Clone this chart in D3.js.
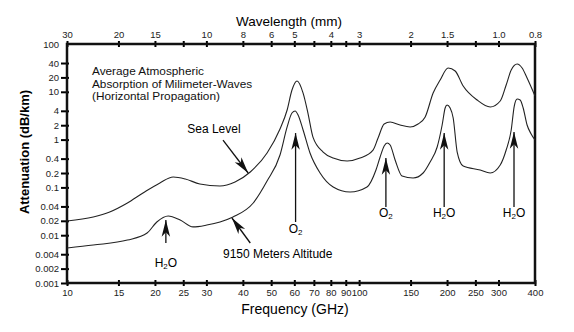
<!DOCTYPE html>
<html>
<head>
<meta charset="utf-8">
<script src="https://cdn.jsdelivr.net/npm/d3@7/dist/d3.min.js"></script>
<style>
  body { margin: 0; background: #fff; }
  svg { font-family: "Liberation Sans", Arial, sans-serif; }
</style>
</head>
<body>
<div id="chart"></div>
<script>
// frequency ticks (GHz) on the bottom, wavelength labels on the top at the same ticks
const freqTicks = [10, 15, 20, 25, 30, 40, 50, 60, 70, 80, 90, 100, 150, 200, 250, 300, 400]
const waveLabels = ["30", "20", "15", "", "10", "8", "6", "5", "", "4", "", "3", "2", "1.5", "", "1.0", "0.8"]
const attTicks = [100, 40, 20, 10, 4, 2, 1, 0.4, 0.2, 0.1, 0.04, 0.02, 0.01, 0.004, 0.002, 0.001]
const attLabels = ["100", "40", "20", "10", "4", "2", "1", "0.4", "0.2", "0.1", "0.04", "0.02", "0.01", "0.004", "0.002", "0.001"]

// sea level curve
const seaFreq = [10, 12.3, 14.0, 16.1, 18.2, 20.8, 23.1, 25.4, 28.5, 33.4, 37.6, 42.4, 48.4, 53.6, 56.7, 58.9, 61.3, 64.3, 66.8, 69.5, 75.3, 81.5, 91.0, 100.7, 111.6, 116.1, 121.8, 127.7, 138.1, 149.5, 159.2, 168.3, 179.2, 189.4, 201.7, 213.2, 227.1, 253.5, 281.0, 304.1, 318.7, 331.6, 347.5, 361.4, 375.8, 400]
const seaAtt = [0.0198, 0.024, 0.0306, 0.0472, 0.0764, 0.124, 0.165, 0.150, 0.118, 0.107, 0.130, 0.210, 0.525, 1.67, 4.16, 10.9, 16.8, 9.4, 3.6, 1.13, 0.55, 0.41, 0.356, 0.41, 0.605, 1.08, 2.12, 2.33, 2.02, 1.84, 2.12, 2.97, 9.4, 17.7, 31.5, 27.2, 13.2, 6.73, 4.81, 6.42, 13.9, 28.6, 38.2, 31.5, 19.4, 8.17]

// 9150 m altitude curve
const altFreq = [10, 12.3, 16.1, 18.8, 20.3, 22.2, 24.4, 27.0, 30.1, 33.4, 37.0, 43.4, 48.4, 53.6, 56.7, 58.9, 60.4, 61.8, 64.3, 67.9, 73.5, 81.5, 93.1, 106.4, 114.2, 118.0, 121.8, 124.7, 127.7, 132.8, 140.3, 153.0, 165.6, 175.0, 185.0, 192.4, 197.0, 200.0, 204.9, 209.9, 216.6, 227.1, 259.6, 281.0, 304.1, 318.7, 331.6, 339.7, 347.5, 355.8, 364.4, 375.8, 388.0, 400]
const altAtt = [0.0054, 0.00624, 0.0079, 0.0111, 0.0189, 0.0252, 0.0208, 0.0149, 0.0163, 0.0189, 0.024, 0.0472, 0.136, 0.476, 1.84, 3.6, 3.96, 3.27, 1.59, 0.525, 0.2, 0.102, 0.080, 0.102, 0.231, 0.432, 0.734, 0.85, 0.77, 0.374, 0.173, 0.157, 0.2, 0.34, 0.70, 2.02, 4.58, 5.3, 4.58, 2.83, 0.55, 0.28, 0.231, 0.2, 0.294, 0.605, 1.59, 5.04, 7.06, 6.73, 4.58, 2.02, 1.31, 0.98]

// absorption line arrows
const lineGas = ["H2O", "O2", "O2", "H2O", "H2O"]
const lineFreq = [21.8, 60.6, 123.5, 195.5, 339]
const lineBase = [0.0069, 0.0189, 0.039, 0.039, 0.039]
const lineTip = [0.0208, 1.37, 0.41, 1.37, 1.44]
const lineLabelAt = [0.00216, 0.0111, 0.024, 0.024, 0.024]

drawChart()

function drawChart() {
	const width = 574
	const height = 332
	const left = 67, right = 535, top = 44, bottom = 283

	const svg = d3.select("#chart")
		.append("svg")
		.attr("width", width)
		.attr("height", height)

	const x = d3.scaleLog().domain([10, 400]).range([left, right])
	const y = d3.scaleLog().domain([0.001, 100]).range([bottom, top])

	// arrow head
	svg.append("defs").append("marker")
		.attr("id", "head")
		.attr("markerUnits", "userSpaceOnUse")
		.attr("markerWidth", 20)
		.attr("markerHeight", 20)
		.attr("viewBox", "-16 -8 18 16")
		.attr("refX", 0)
		.attr("refY", 0)
		.attr("orient", "auto")
		.append("path")
		.attr("d", "M0,0 L-15,-3.8 L-11,0 L-15,3.8 Z")
		.attr("fill", "#111")

	// bottom axis
	const bx = svg.append("g")
		.attr("transform", `translate(0,${bottom})`)
		.call(d3.axisBottom(x).tickValues(freqTicks).tickFormat(d3.format("d")).tickSize(3).tickPadding(3.5))
	bx.select(".domain").remove()
	bx.selectAll(".tick line").attr("y1", -3).attr("stroke-width", 2)

	// top axis (wavelength)
	const tx = svg.append("g")
		.attr("transform", `translate(0,${top})`)
		.call(d3.axisTop(x).tickValues(freqTicks).tickFormat((d, i) => waveLabels[i]).tickSize(3).tickPadding(3.5))
	tx.select(".domain").remove()
	tx.selectAll(".tick line").attr("y1", 3).attr("stroke-width", 2)

	// left axis
	const ly = svg.append("g")
		.attr("transform", `translate(${left},0)`)
		.call(d3.axisLeft(y).tickValues(attTicks).tickFormat((d, i) => attLabels[i]).tickSize(6).tickPadding(2))
	ly.select(".domain").remove()
	ly.selectAll(".tick line").attr("x1", 2).attr("stroke-width", 2)
		.filter(d => d == 100).remove()

	svg.selectAll(".tick text")
		.style("font-size", "9.5px")
		.attr("fill", "#222")

	// frame
	svg.append("rect")
		.attr("x", left)
		.attr("y", top)
		.attr("width", right - left)
		.attr("height", bottom - top)
		.attr("fill", "none")
		.attr("stroke", "#111")
		.attr("stroke-width", 2.5)

	// axis titles
	svg.append("text")
		.attr("x", 289).attr("y", 26)
		.attr("text-anchor", "middle")
		.style("font-size", "13.5px")
		.text("Wavelength (mm)")
	svg.append("text")
		.attr("x", 295).attr("y", 314)
		.attr("text-anchor", "middle")
		.style("font-size", "14px")
		.text("Frequency (GHz)")
	svg.append("text")
		.attr("transform", `translate(29,152) rotate(-90)`)
		.attr("text-anchor", "middle")
		.style("font-size", "13px")
		.style("font-weight", "bold")
		.text("Attenuation (dB/km)")

	// curves
	const line = d3.line()
		.x(d => x(d[0]))
		.y(d => y(d[1]))
		.curve(d3.curveMonotoneX)

	const curves = [d3.zip(seaFreq, seaAtt), d3.zip(altFreq, altAtt)]
	svg.append("g")
		.selectAll("path")
		.data(curves)
		.join("path")
		.attr("d", line)
		.attr("fill", "none")
		.attr("stroke", "#222")
		.attr("stroke-width", 1.1)

	// description text, one text per line
	const descLines = ["Average Atmospheric", "Absorption of Milimeter-Waves", "(Horizontal Propagation)"]
	svg.append("g")
		.selectAll("text")
		.data(descLines)
		.join("text")
		.attr("x", 92)
		.attr("y", (d, i) => 75 + i * 12.5)
		.style("font-size", "11.8px")
		.attr("fill", "#111")
		.text(d => d)

	// curve labels + diagonal arrows
	svg.append("text")
		.attr("x", x(25.8)).attr("y", y(1.37))
		.style("font-size", "12px")
		.text("Sea Level")
	svg.append("line")
		.attr("x1", x(34.2)).attr("y1", y(0.98))
		.attr("x2", x(41.7)).attr("y2", y(0.2))
		.attr("stroke", "#111").attr("stroke-width", 1.3)
		.attr("marker-end", "url(#head)")

	svg.append("text")
		.attr("x", x(34.2)).attr("y", y(0.00333))
		.style("font-size", "12px")
		.text("9150 Meters Altitude")
	svg.append("line")
		.attr("x1", x(42.4)).attr("y1", y(0.00687))
		.attr("x2", x(36.7)).attr("y2", y(0.0229))
		.attr("stroke", "#111").attr("stroke-width", 1.3)
		.attr("marker-end", "url(#head)")

	// absorption lines
	const ann = svg.append("g")
		.selectAll("g")
		.data(d3.range(lineGas.length))
		.join("g")

	ann.append("line")
		.attr("x1", i => x(lineFreq[i])).attr("x2", i => x(lineFreq[i]))
		.attr("y1", i => y(lineBase[i])).attr("y2", i => y(lineTip[i]))
		.attr("stroke", "#111").attr("stroke-width", 1.3)
		.attr("marker-end", "url(#head)")

	const lbl = ann.append("text")
		.attr("x", i => x(lineFreq[i]))
		.attr("y", i => y(lineLabelAt[i]))
		.attr("text-anchor", "middle")
		.style("font-size", "12px")
	lbl.append("tspan").text(i => lineGas[i] == "H2O" ? "H" : "O")
	lbl.append("tspan").attr("dy", 1.5).style("font-size", "8px").text("2")
	lbl.append("tspan").attr("dy", -1.5).text(i => lineGas[i] == "H2O" ? "O" : "")
}
</script>
</body>
</html>
